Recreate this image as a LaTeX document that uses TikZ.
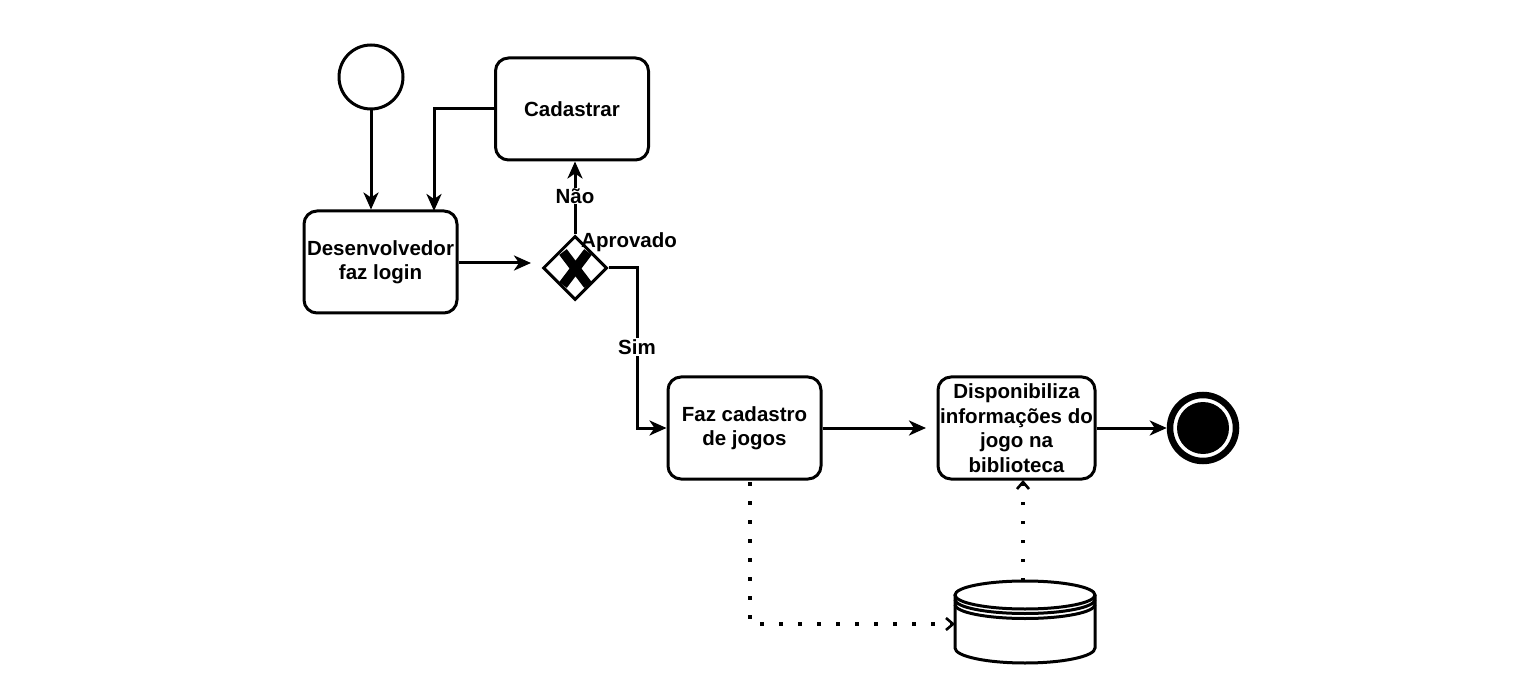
\documentclass[tikz,border=0pt]{standalone}
\usepackage{fontspec}
\setmainfont{Liberation Sans}
\usetikzlibrary{arrows.meta,shapes.geometric}
\begin{document}
\begin{tikzpicture}[x=1pt,y=-1pt,
  lw/.style={line width=3pt},
  task/.style={draw,lw,rounded corners=13pt,minimum width=153pt,minimum height=102pt,align=center,font=\fontsize{20.5}{24.5}\selectfont\bfseries,inner sep=1pt},
  flow/.style={lw,-{Stealth[length=17pt,width=15pt,inset=5pt]}},
  assoc/.style={line width=3.5pt,dash pattern=on 3.5pt off 15.5pt,-{Straight Barb[length=7pt,width=12pt,line width=2.6pt]}},
  lbl/.style={font=\fontsize{20.5}{24}\selectfont\bfseries,fill=white,inner sep=1pt}
]
\useasboundingbox (0,0) rectangle (1531,700);
% start
\node[circle,draw,lw,minimum size=64pt,inner sep=0pt] (start) at (371,77) {};
% tasks
\node[task] (cad) at (572,109) {Cadastrar};
\node[task] (login) at (380.5,262) {Desenvolvedor\\faz login};
\node[task] (faz) at (744.5,428) {Faz cadastro\\de jogos};
\node[task,minimum width=157pt] (disp) at (1016.5,428) {Disponibiliza\\informações do\\jogo na\\biblioteca};
% gateway
\node[diamond,draw,lw,minimum size=64pt,inner sep=0pt] (gw) at (575,268) {};
\draw[line width=9.5pt] (563,252) -- (588,285) (588,252) -- (563,285);
% end
\node[circle,draw,line width=6.5pt,minimum size=66pt,inner sep=0pt] (end) at (1203,428) {};
\node[circle,fill=black,minimum size=52pt,inner sep=0pt] (endin) at (1203,428) {};
% data store
\draw[lw,fill=white] (955,595) -- (955,648) arc[start angle=180,end angle=360,x radius=70pt,y radius=15pt] -- (1095,595);
\draw[lw,fill=white] (1025,595) ellipse[x radius=70pt,y radius=14pt];
\draw[lw] (955,599.5) arc[start angle=180,end angle=360,x radius=70pt,y radius=14pt];
\draw[lw] (955,604.5) arc[start angle=180,end angle=360,x radius=70pt,y radius=14pt];
\coordinate (dsTop) at (1023,581);
\coordinate (dsIn) at (955,624);
% flows
\draw[flow] (start) -- (start|-login.north);
\draw[flow] (cad.west) -- (434,109) -- (434,211);
\draw[flow] (login.east|-0,263) -- (531,263);
\draw[flow] (gw.north) -- (cad.south-|gw.north);
\node[lbl] (nao) at (575,196) {Não};
\node[font=\fontsize{20.5}{24}\selectfont\bfseries,anchor=west,inner sep=0pt] (apr) at (581,242) {Aprovado};
\draw[flow] (gw.east) -- (637,268) -- (637,428) -- (faz.west);
\node[lbl] (sim) at (637,347) {Sim};
\draw[flow] (faz.east) -- (926,428);
\draw[flow] (disp.east) -- (end.west);
% associations
\draw[assoc] (750,482) -- (750,624) -- (dsIn);
\draw[assoc] (dsTop) -- (1023,480);
\end{tikzpicture}
\end{document}
